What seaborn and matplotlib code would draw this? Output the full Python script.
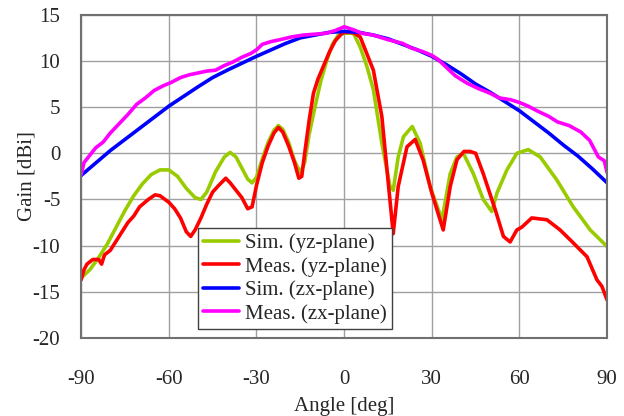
import pandas as pd
import matplotlib
matplotlib.use("Agg")
import matplotlib.pyplot as plt
import seaborn as sns

# Sim. (yz-plane)
sim_yz_ang = [-90, -87, -84, -81, -78, -75, -72, -69, -66, -63, -60, -57, -54, -51, -49, -47, -44, -41, -39,
              -37, -35, -33, -31.5, -30, -28, -26, -24, -22.5, -21, -19, -17, -15, -13.5, -12, -10, -8, -6,
              -4, -2, 0, 1.5, 3.2, 5.5, 7.8, 10, 12.9, 15.7, 16.8, 18.5, 20.3, 23.3, 26, 29.4, 33.5, 36.3,
              38.6, 40.8, 44.2, 47.6, 50.5, 52.3, 55.7, 59.1, 63, 67.1, 72.8, 78.4, 84.2, 90]
sim_yz_val = [-13.5, -12.6, -11.3, -9.8, -8.0, -6.2, -4.6, -3.3, -2.3, -1.8, -1.8, -2.5, -3.8, -4.8, -5.0,
              -4.2, -2.0, -0.4, 0.1, -0.4, -1.6, -2.8, -3.2, -2.6, -0.6, 1.2, 2.5, 3.0, 2.6, 1.2, -0.8, -2.1,
              -1.0, 2.0, 5.0, 7.8, 10.0, 11.8, 12.8, 13.0, 13.0, 13.0, 11.5, 9.4, 6.9, 1.1, -3.6, -4.0, -0.4,
              1.8, 2.9, 1.1, -3.6, -7.2, -2.2, -0.4, 0.0, -2.2, -5.0, -6.3, -4.3, -1.8, 0.0, 0.4, -0.4, -2.9,
              -5.8, -8.3, -10.1]

# Meas. (yz-plane)
meas_yz_ang = [-90, -89, -88, -86, -84, -83, -82, -80, -78, -76, -74, -72, -70, -67, -64.7, -63, -60, -58,
               -56, -54, -52.5, -51, -49, -47, -45, -43, -40.5, -39, -37, -35, -33, -31.5, -30, -28, -26,
               -24, -22.5, -21, -19, -17, -15.5, -14.5, -13.5, -12, -10.5, -9, -7, -5, -3, -1, 0, 2, 3.5,
               5.5, 10, 12.9, 15.1, 16.8, 18.5, 21.5, 24.3, 27, 30, 33.9, 36.3, 38.6, 41, 43.1, 45, 47.6,
               51.7, 54.5, 56.8, 59.1, 60.8, 64.2, 69.4, 73.9, 78.4, 83.1, 86.5, 88.2, 90]
meas_yz_val = [-13.7, -12.6, -12.0, -11.5, -11.5, -12.0, -11.0, -10.5, -9.5, -8.5, -7.5, -6.8, -5.8, -5.0,
               -4.5, -4.6, -5.3, -6.0, -7.0, -8.5, -9.0, -8.3, -7.0, -5.5, -4.2, -3.5, -2.7, -3.2, -4.0,
               -4.8, -6.0, -5.8, -3.5, -1.0, 0.8, 2.2, 2.8, 2.3, 0.8, -1.0, -2.7, -2.5, 0.0, 3.5, 6.5, 8.0,
               9.5, 11.0, 12.2, 12.9, 13.1, 13.1, 13.0, 12.6, 9.0, 4.0, -3.2, -8.7, -3.6, 0.7, 1.5, -0.7,
               -4.3, -8.3, -3.6, -0.7, 0.2, 0.2, 0.0, -2.2, -6.1, -9.0, -9.6, -8.3, -8.0, -7.0, -7.2, -8.3,
               -9.7, -11.2, -13.7, -14.4, -15.9]

# Sim. (zx-plane)
sim_zx_ang = [-90, -80, -75, -70, -60, -50, -45, -40, -30, -20, -15, -10, -5, 0, 5, 10, 15, 20, 25, 30, 35,
              40, 45, 50, 55, 60, 65, 70, 75, 80, 85, 90]
sim_zx_val = [-2.4, 0.3, 1.5, 2.7, 5.1, 7.2, 8.2, 9.0, 10.5, 11.9, 12.5, 12.8, 13.1, 13.2, 13.1, 12.8, 12.4,
              11.8, 11.2, 10.5, 9.6, 8.6, 7.5, 6.6, 5.6, 4.6, 3.4, 2.2, 0.9, -0.3, -1.7, -3.2]

# Meas. (zx-plane)
meas_zx_ang = [-90, -89, -87, -85, -82.5, -80, -77, -74, -71, -68, -65, -62, -59, -56, -53, -50, -47, -44,
               -41, -38, -35, -32, -30, -28, -25, -22, -18, -14, -10, -6, -3, 0, 3, 6, 10, 15, 20, 23, 27,
               30, 32, 35, 38, 42, 46, 50, 53, 57, 60, 63, 66, 70, 73, 77, 81, 84, 87, 89, 90]
meas_zx_val = [-2.3, -1.0, -0.2, 0.6, 1.2, 2.2, 3.2, 4.2, 5.3, 6.0, 6.8, 7.3, 7.7, 8.2, 8.5, 8.7, 8.9, 9.0,
               9.5, 9.9, 10.4, 10.8, 11.2, 11.8, 12.1, 12.3, 12.6, 12.8, 12.9, 13.0, 13.3, 13.7, 13.4, 13.0,
               12.8, 12.3, 11.9, 11.4, 11.0, 10.6, 10.2, 9.3, 8.4, 7.6, 7.0, 6.5, 6.0, 5.8, 5.5, 5.1, 4.6,
               4.0, 3.4, 3.0, 2.3, 1.4, -0.4, -0.8, -2.1]

series = {
    "Sim. (yz-plane)": (sim_yz_ang, sim_yz_val),
    "Meas. (yz-plane)": (meas_yz_ang, meas_yz_val),
    "Sim. (zx-plane)": (sim_zx_ang, sim_zx_val),
    "Meas. (zx-plane)": (meas_zx_ang, meas_zx_val),
}
df = pd.concat(
    [pd.DataFrame({"Angle": a, "Gain": g, "Series": name}) for name, (a, g) in series.items()],
    ignore_index=True,
)

colors = {
    "Sim. (yz-plane)": "#99cc00",
    "Meas. (yz-plane)": "#ff0000",
    "Sim. (zx-plane)": "#0000ff",
    "Meas. (zx-plane)": "#ff00ff",
}

sns.set_style("white")
plt.rcParams["font.family"] = ["Liberation Serif", "DejaVu Serif"]
plt.rcParams["axes.unicode_minus"] = False

fig = plt.figure(figsize=(6.24, 4.16), dpi=100)
ax = fig.add_axes([0.13, 0.1875, 0.843, 0.777])

sns.lineplot(data=df, x="Angle", y="Gain", hue="Series", palette=colors,
             estimator=None, sort=False, linewidth=2.6, ax=ax)

ax.set_xlim(-90, 90)
ax.set_ylim(-20, 15)
ax.set_xticks(range(-90, 91, 30))
ax.set_yticks(range(-20, 16, 5))
ax.grid(True, color="#a0a0a0", linewidth=1.0)
ax.set_axisbelow(True)
for s in ax.spines.values():
    s.set_color("#707070")
    s.set_linewidth(1.5)
ax.tick_params(axis="both", labelsize=15, length=0)
ax.tick_params(axis="y", pad=15)
ax.tick_params(axis="x", pad=23)
ax.set_xlabel("Angle [deg]", fontsize=15, labelpad=6)
ax.set_ylabel("Gain [dBi]", fontsize=15, labelpad=-3)

leg = ax.legend(loc="lower left", bbox_to_anchor=(0.222, 0.028), borderaxespad=0,
                fontsize=15, frameon=True, fancybox=False, framealpha=1,
                edgecolor="#404040", handlelength=1.7, handletextpad=0.3,
                labelspacing=0.18, borderpad=0.25)
leg.get_frame().set_linewidth(1.0)

fig.savefig("out.png", dpi=100)
